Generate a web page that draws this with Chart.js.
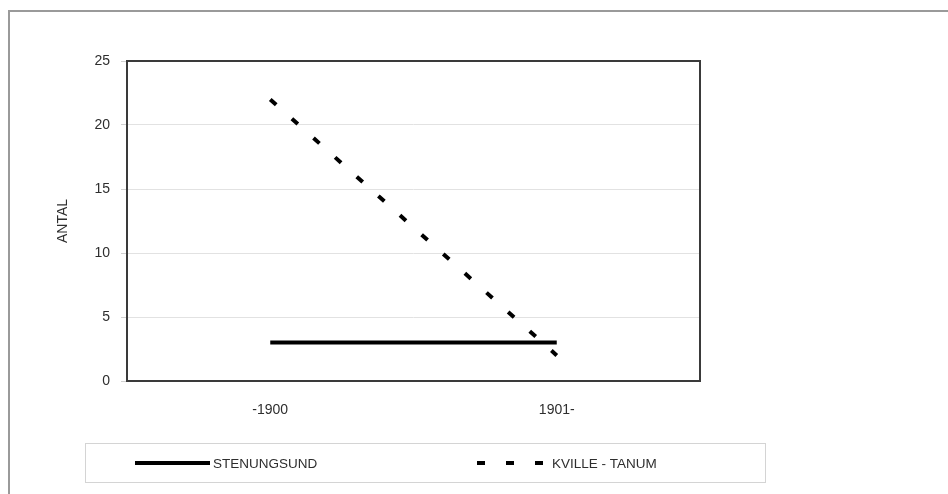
<!DOCTYPE html>
<html>
<head>
<meta charset="utf-8">
<script src="https://cdn.jsdelivr.net/npm/chart.js@4"></script>
<style>
  html, body { margin: 0; padding: 0; background: #fff; }
  #wrap { position: relative; width: 948px; height: 494px; }
  canvas { display: block; }
</style>
</head>
<body>
<div id="wrap"><canvas id="c" width="948" height="494"></canvas></div>
<script>
const categories = ['-1900', '1901-'];
const stenungsund = [3, 3];
const kvilleTanum = [22, 2];
const seriesNames = ['STENUNGSUND', 'KVILLE - TANUM'];
const yTicks = [0, 5, 10, 15, 20, 25];
const yTitle = 'ANTAL';

const FONT = '"Liberation Sans", Arial, sans-serif';
const TEXT = '#2e2e2e';

const frame = {
  id: 'frame',
  beforeDraw(chart) {
    const ctx = chart.ctx;
    ctx.save();
    ctx.fillStyle = '#fff';
    ctx.fillRect(0, 0, chart.width, chart.height);
    ctx.strokeStyle = '#9a9a9a';
    ctx.lineWidth = 2;
    ctx.strokeRect(9, 11, chart.width + 10, chart.height + 10);
    ctx.restore();
  },
  afterDatasetsDraw(chart) {
    const ctx = chart.ctx;
    const a = chart.chartArea;
    ctx.save();
    ctx.strokeStyle = '#3a3a3a';
    ctx.lineWidth = 2;
    ctx.strokeRect(a.left, a.top, a.right - a.left, a.bottom - a.top);
    ctx.restore();
  },
  afterDraw(chart) {
    const ctx = chart.ctx;
    ctx.save();
    ctx.strokeStyle = '#d4d4d4';
    ctx.lineWidth = 1;
    ctx.strokeRect(85.5, 443.5, 680, 39);
    const y = 463;
    const items = [{x0: 135, x1: 210, tx: 213}, {x0: 477, x1: 546, tx: 552}];
    chart.data.datasets.forEach((ds, i) => {
      const it = items[i];
      ctx.beginPath();
      ctx.strokeStyle = ds.borderColor;
      ctx.lineWidth = ds.borderWidth;
      ctx.lineCap = 'butt';
      ctx.setLineDash(ds.borderDash || []);
      ctx.moveTo(it.x0, y);
      ctx.lineTo(it.x1, y);
      ctx.stroke();
      ctx.setLineDash([]);
      ctx.fillStyle = TEXT;
      ctx.font = '13.5px ' + FONT;
      ctx.textBaseline = 'middle';
      ctx.textAlign = 'left';
      ctx.fillText(ds.label, it.tx, y + 1);
    });
    ctx.restore();
  }
};

new Chart(document.getElementById('c'), {
  type: 'line',
  data: {
    labels: categories,
    datasets: [
      {
        label: seriesNames[0],
        data: stenungsund,
        borderColor: '#000',
        borderWidth: 4,
        pointRadius: 0,
        tension: 0,
        fill: false
      },
      {
        label: seriesNames[1],
        data: kvilleTanum,
        borderColor: '#000',
        borderWidth: 4,
        borderDash: [8, 21],
        pointRadius: 0,
        tension: 0,
        fill: false
      }
    ]
  },
  options: {
    responsive: false,
    animation: false,
    devicePixelRatio: 1,
    layout: { padding: { left: 0, top: 61, right: 248, bottom: 0 } },
    plugins: {
      legend: { display: false },
      tooltip: { enabled: false },
      title: { display: false }
    },
    scales: {
      x: {
        type: 'category',
        offset: true,
        grid: { display: false, drawTicks: false },
        border: { display: false },
        ticks: {
          color: TEXT,
          font: { family: FONT, size: 14 },
          padding: 21,
          maxRotation: 0
        },
        afterFit(scale) { scale.height = 113; }
      },
      y: {
        min: 0,
        max: 25,
        afterBuildTicks(scale) { scale.ticks = yTicks.map(v => ({ value: v })); },
        grid: {
          color: '#e2e2e2',
          lineWidth: 1,
          drawTicks: true,
          tickLength: 6,
          tickColor: '#d0d0d0'
        },
        border: { display: false },
        ticks: {
          color: TEXT,
          font: { family: FONT, size: 14 },
          padding: 11
        },
        title: {
          display: true,
          text: yTitle,
          color: TEXT,
          font: { family: FONT, size: 14 },
          padding: { top: 55, bottom: 0 }
        },
        afterFit(scale) { scale.width = 127; }
      }
    }
  },
  plugins: [frame]
});
</script>
</body>
</html>
